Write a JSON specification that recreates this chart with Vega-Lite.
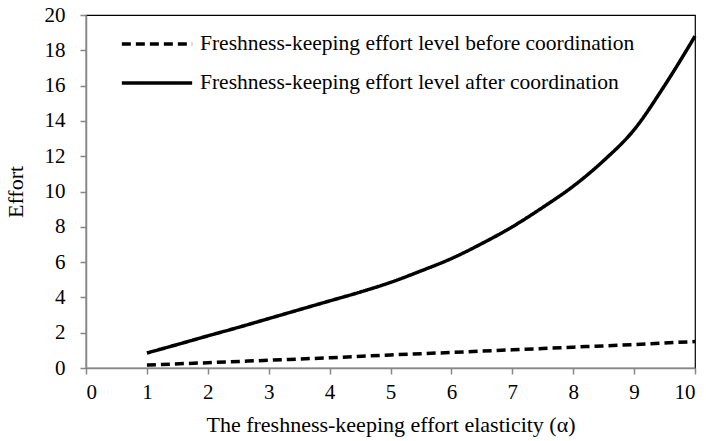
{
  "$schema": "https://vega.github.io/schema/vega-lite/v6.json",
  "autosize": {"type": "none"},
  "width": 609,
  "height": 353,
  "padding": {"left": 86, "top": 15, "right": 11, "bottom": 73},
  "background": "white",
  "config": {
    "font": "Liberation Serif",
    "view": {"stroke": "black", "strokeWidth": 1.2},
    "legend": {"labelFont": "Liberation Serif", "titleFont": "Liberation Serif"},
    "axis": {
      "grid": false,
      "domainColor": "#878787",
      "domainWidth": 1.5,
      "tickColor": "#878787",
      "tickWidth": 1.5,
      "tickSize": 6,
      "labelColor": "black",
      "titleColor": "black",
      "labelFont": "Liberation Serif",
      "titleFont": "Liberation Serif",
      "labelFontSize": 21,
      "titleFontSize": 22,
      "titleFontWeight": "normal"
    }
  },
  "data": {
    "values": [
      {"a": 1, "effort": 0.17, "series": "Freshness-keeping effort level before coordination"},
      {"a": 2, "effort": 0.3, "series": "Freshness-keeping effort level before coordination"},
      {"a": 3, "effort": 0.44, "series": "Freshness-keeping effort level before coordination"},
      {"a": 4, "effort": 0.58, "series": "Freshness-keeping effort level before coordination"},
      {"a": 5, "effort": 0.74, "series": "Freshness-keeping effort level before coordination"},
      {"a": 6, "effort": 0.88, "series": "Freshness-keeping effort level before coordination"},
      {"a": 7, "effort": 1.03, "series": "Freshness-keeping effort level before coordination"},
      {"a": 8, "effort": 1.18, "series": "Freshness-keeping effort level before coordination"},
      {"a": 9, "effort": 1.33, "series": "Freshness-keeping effort level before coordination"},
      {"a": 10, "effort": 1.5, "series": "Freshness-keeping effort level before coordination"},
      {"a": 1, "effort": 0.85, "series": "Freshness-keeping effort level after coordination"},
      {"a": 1.5, "effort": 1.33, "series": "Freshness-keeping effort level after coordination"},
      {"a": 2, "effort": 1.82, "series": "Freshness-keeping effort level after coordination"},
      {"a": 2.5, "effort": 2.3, "series": "Freshness-keeping effort level after coordination"},
      {"a": 3, "effort": 2.8, "series": "Freshness-keeping effort level after coordination"},
      {"a": 3.5, "effort": 3.3, "series": "Freshness-keeping effort level after coordination"},
      {"a": 4, "effort": 3.8, "series": "Freshness-keeping effort level after coordination"},
      {"a": 4.5, "effort": 4.3, "series": "Freshness-keeping effort level after coordination"},
      {"a": 5, "effort": 4.85, "series": "Freshness-keeping effort level after coordination"},
      {"a": 5.5, "effort": 5.5, "series": "Freshness-keeping effort level after coordination"},
      {"a": 6, "effort": 6.2, "series": "Freshness-keeping effort level after coordination"},
      {"a": 6.5, "effort": 7.05, "series": "Freshness-keeping effort level after coordination"},
      {"a": 7, "effort": 8.0, "series": "Freshness-keeping effort level after coordination"},
      {"a": 7.5, "effort": 9.1, "series": "Freshness-keeping effort level after coordination"},
      {"a": 8, "effort": 10.3, "series": "Freshness-keeping effort level after coordination"},
      {"a": 8.5, "effort": 11.75, "series": "Freshness-keeping effort level after coordination"},
      {"a": 9, "effort": 13.5, "series": "Freshness-keeping effort level after coordination"},
      {"a": 9.5, "effort": 16.0, "series": "Freshness-keeping effort level after coordination"},
      {"a": 10, "effort": 18.8, "series": "Freshness-keeping effort level after coordination"}
    ]
  },
  "mark": {"type": "line", "color": "black", "strokeWidth": 3.5, "interpolate": "monotone"},
  "encoding": {
    "x": {
      "field": "a", "type": "quantitative",
      "scale": {"domain": [0, 10], "nice": false},
      "axis": {"values": [0,1,2,3,4,5,6,7,8,9,10], "labelPadding": 7, "title": "The freshness-keeping effort elasticity (α)", "titlePadding": 12}
    },
    "y": {
      "field": "effort", "type": "quantitative",
      "scale": {"domain": [0, 20], "nice": false},
      "axis": {"values": [0,2,4,6,8,10,12,14,16,18,20], "labelPadding": 15, "title": "Effort", "titlePadding": 17}
    },
    "strokeDash": {
      "field": "series", "type": "nominal",
      "sort": ["Freshness-keeping effort level before coordination", "Freshness-keeping effort level after coordination"],
      "scale": {"domain": ["Freshness-keeping effort level before coordination", "Freshness-keeping effort level after coordination"], "range": [[9, 5], [1, 0]]},
      "legend": {
        "title": null,
        "orient": "none",
        "legendX": 50,
        "legendY": 8,
        "symbolType": "M-1.85,0H1.85",
        "symbolSize": 1444,
        "symbolStrokeWidth": 3.5,
        "symbolStrokeColor": "black",
        "symbolFillColor": "transparent",
        "labelFont": "Liberation Serif",
        "labelFontSize": 21.5,
        "labelColor": "black",
        "labelOffset": 22,
        "rowPadding": 7,
        "labelLimit": 700
      }
    }
  }
}
